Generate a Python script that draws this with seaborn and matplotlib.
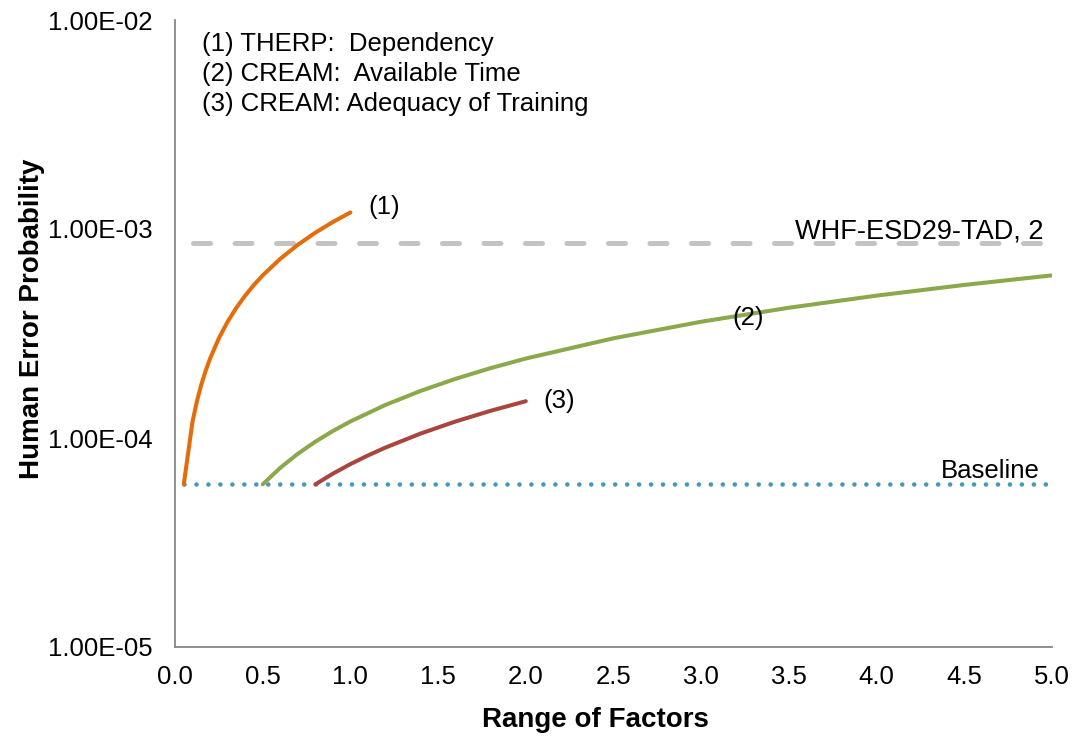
import numpy as np
import pandas as pd
import seaborn as sns
import matplotlib.pyplot as plt
from matplotlib.ticker import FixedLocator, FuncFormatter, NullLocator

# (1) THERP: Dependency
therp_x = [0.05, 0.1, 0.125, 0.15, 0.175, 0.2, 0.25, 0.3, 0.35, 0.4, 0.45,
           0.5, 0.6, 0.7, 0.8, 0.9, 1.0]
therp_y = [6.0e-5, 1.2e-4, 1.5e-4, 1.8e-4, 2.1e-4, 2.4e-4, 3.0e-4, 3.6e-4,
           4.2e-4, 4.8e-4, 5.4e-4, 6.0e-4, 7.2e-4, 8.4e-4, 9.6e-4, 1.08e-3,
           1.2e-3]

# (2) CREAM: Available Time
time_x = [0.5, 0.6, 0.7, 0.8, 0.9, 1.0, 1.2, 1.4, 1.6, 1.8, 2.0, 2.5, 3.0,
          3.5, 4.0, 4.5, 5.0]
time_y = [6.0e-5, 7.2e-5, 8.4e-5, 9.6e-5, 1.08e-4, 1.2e-4, 1.44e-4, 1.68e-4,
          1.92e-4, 2.16e-4, 2.4e-4, 3.0e-4, 3.6e-4, 4.2e-4, 4.8e-4, 5.4e-4,
          6.0e-4]

# (3) CREAM: Adequacy of Training
train_x = [0.8, 0.9, 1.0, 1.1, 1.2, 1.4, 1.6, 1.8, 2.0]
train_y = [6.0e-5, 6.75e-5, 7.5e-5, 8.25e-5, 9.0e-5, 1.05e-4, 1.2e-4,
           1.35e-4, 1.5e-4]

# reference levels
whf_x = [0.1, 5.0]
whf_y = [8.6e-4, 8.6e-4]
base_x = [0.05, 5.0]
base_y = [6.0e-5, 6.0e-5]

x_ticks = [0.0, 0.5, 1.0, 1.5, 2.0, 2.5, 3.0, 3.5, 4.0, 4.5, 5.0]
y_ticks = [1e-5, 1e-4, 1e-3, 1e-2]

legend_lines = ["(1) THERP:  Dependency",
                "(2) CREAM:  Available Time",
                "(3) CREAM: Adequacy of Training"]

sns.set_style("white")
plt.rcParams['font.family'] = ['Liberation Sans', 'DejaVu Sans']
plt.rcParams['text.color'] = 'black'
plt.rcParams['axes.labelcolor'] = 'black'

fig = plt.figure(figsize=(10.73, 7.42), dpi=100)
ax = fig.add_axes([175 / 1073, 1 - 647 / 742, 877 / 1073, 627 / 742])
ax.set_yscale('log')

sns.lineplot(x=base_x, y=base_y, ax=ax, color='#4698B8', linewidth=3.3,
             linestyle=(0, (0.01, 2.6)), dash_capstyle='round')
sns.lineplot(x=whf_x, y=whf_y, ax=ax, color='#C3C3C3', linewidth=3.6,
             linestyle=(0, (3.4, 4.9)), dash_capstyle='round')
sns.lineplot(x=time_x, y=time_y, ax=ax, color='#8BA84A', linewidth=2.9,
             solid_capstyle='round')
sns.lineplot(x=train_x, y=train_y, ax=ax, color='#A9443F', linewidth=2.9,
             solid_capstyle='round')
sns.lineplot(x=therp_x, y=therp_y, ax=ax, color='#E46C0A', linewidth=2.9,
             solid_capstyle='round')

ax.set_xlim(0, 5)
ax.set_ylim(1e-5, 1e-2)
ax.xaxis.set_major_locator(FixedLocator(x_ticks))
ax.yaxis.set_major_locator(FixedLocator(y_ticks))
ax.yaxis.set_minor_locator(NullLocator())
ax.xaxis.set_major_formatter(FuncFormatter(lambda v, p: f"{v:.1f}"))
ax.yaxis.set_major_formatter(FuncFormatter(lambda v, p: f"{v:.2E}"))

for side in ['top', 'right']:
    ax.spines[side].set_visible(False)
for side in ['left', 'bottom']:
    ax.spines[side].set_color('#868686')
    ax.spines[side].set_linewidth(1.3)
ax.tick_params(axis='both', direction='out', length=5, width=1.3,
               color='#868686', labelsize=18.5, labelcolor='black')
ax.tick_params(axis='x', pad=8)
ax.tick_params(axis='y', pad=11)
ax.tick_params(axis='both', which='minor', length=0)

ax.set_xlabel("Range of Factors", fontsize=20, fontweight='bold')
ax.set_ylabel("Human Error Probability", fontsize=20, fontweight='bold')
ax.xaxis.set_label_coords(0.479, -0.095)
ax.yaxis.set_label_coords(-0.148, 0.523)

for i, t in enumerate(legend_lines):
    ax.text(0.031, 0.962 - i * 0.048, t, transform=ax.transAxes,
            fontsize=18.5, ha='left', va='center')

ax.text(1.10, 1.27e-3, "(1)", fontsize=18.5, ha='left', va='center')
ax.text(3.18, 3.75e-4, "(2)", fontsize=18.5, ha='left', va='center')
ax.text(2.10, 1.50e-4, "(3)", fontsize=18.5, ha='left', va='center')
ax.text(4.95, 9.7e-4, "WHF-ESD29-TAD, 2", fontsize=19.5, ha='right', va='center')
ax.text(4.93, 6.95e-5, "Baseline", fontsize=18.5, ha='right', va='center')

fig.savefig("out.png", dpi=100)
